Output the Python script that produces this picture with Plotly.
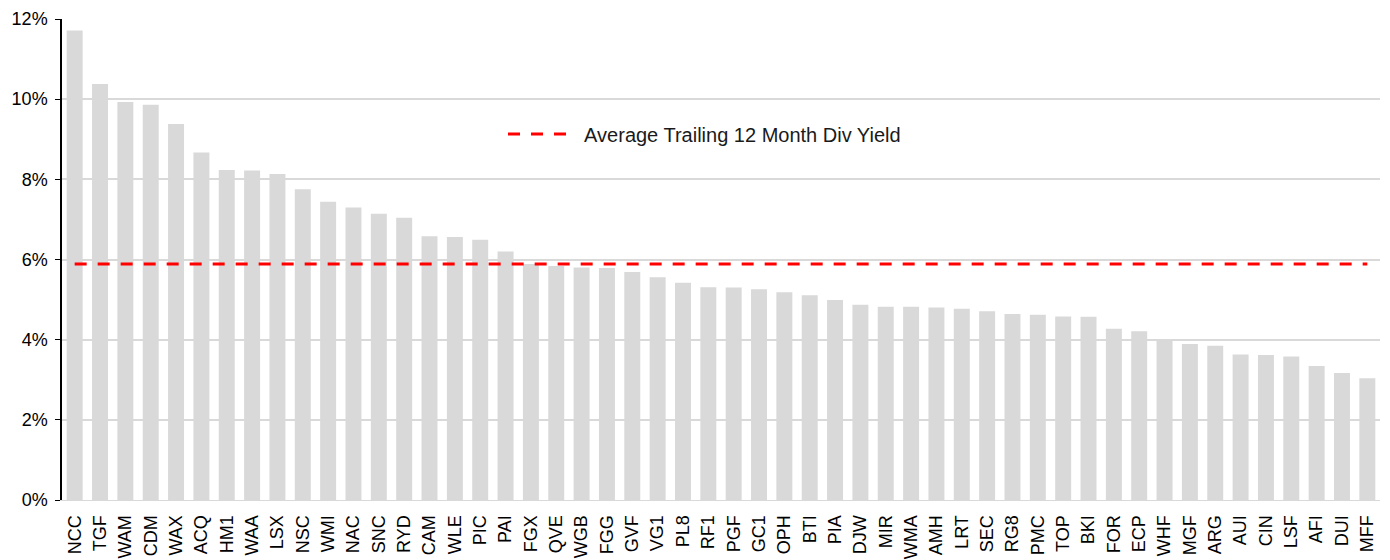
import plotly.graph_objects as go

tickers = ["NCC","TGF","WAM","CDM","WAX","ACQ","HM1","WAA","LSX","NSC","WMI","NAC","SNC","RYD",
           "CAM","WLE","PIC","PAI","FGX","QVE","WGB","FGG","GVF","VG1","PL8","RF1","PGF","GC1",
           "OPH","BTI","PIA","DJW","MIR","WMA","AMH","LRT","SEC","RG8","PMC","TOP","BKI","FOR",
           "ECP","WHF","MGF","ARG","AUI","CIN","LSF","AFI","DUI","MFF"]
div_yield = [11.71,10.38,9.93,9.86,9.38,8.67,8.23,8.22,8.13,7.75,7.44,7.30,7.14,7.04,
             6.58,6.56,6.49,6.20,5.89,5.84,5.80,5.79,5.69,5.56,5.42,5.31,5.30,5.26,
             5.18,5.11,4.99,4.87,4.82,4.82,4.80,4.77,4.71,4.64,4.62,4.58,4.57,4.27,
             4.21,4.00,3.89,3.85,3.63,3.62,3.58,3.34,3.17,3.04]
avg_yield = 5.89
y_ticks = [0, 2, 4, 6, 8, 10, 12]
y_tick_labels = ["0%", "2%", "4%", "6%", "8%", "10%", "12%"]
legend_label = "Average Trailing 12 Month Div Yield"

fig = go.Figure()
fig.add_trace(go.Bar(x=tickers, y=div_yield, marker=dict(color="#d9d9d9", line=dict(width=0)),
                     showlegend=False, name="Yield"))
fig.add_trace(go.Scatter(x=tickers, y=[avg_yield]*len(tickers), mode="lines",
                         line=dict(color="#ff0000", width=3, dash="12px,11px"),
                         name="\u00a0\u00a0" + legend_label, showlegend=True))

font_family = "Liberation Sans, Arial, sans-serif"
# the page body has an 8px margin, so the figure is sized to fit the 1390x560 window
fig.update_layout(
    width=1382, height=552,
    margin=dict(l=54, r=10, t=11, b=60, autoexpand=False),
    paper_bgcolor="white", plot_bgcolor="white",
    bargap=0.37,
    font=dict(family=font_family, size=18, color="#000000"),
    legend=dict(x=0.3346, y=0.761, xanchor="left", yanchor="middle",
                bgcolor="rgba(0,0,0,0)", font=dict(size=20, color="#1a1a1a"), itemwidth=60),
    xaxis=dict(tickangle=-90, showgrid=False, showline=True, linecolor="#d9d9d9",
               linewidth=1, ticks="", tickfont=dict(size=18), automargin=False,
               ticklabelstandoff=7, range=[-0.5, len(tickers)-0.5]),
    yaxis=dict(range=[0, 12], tickvals=y_ticks, ticktext=y_tick_labels,
               showgrid=True, gridcolor="#d9d9d9", gridwidth=1.5,
               showline=True, linecolor="#000000", linewidth=1.5,
               ticks="outside", ticklen=5, tickcolor="#000000", automargin=False,
               ticklabelstandoff=4, tickfont=dict(size=18), zeroline=False),
)
fig.write_html("out.html")
